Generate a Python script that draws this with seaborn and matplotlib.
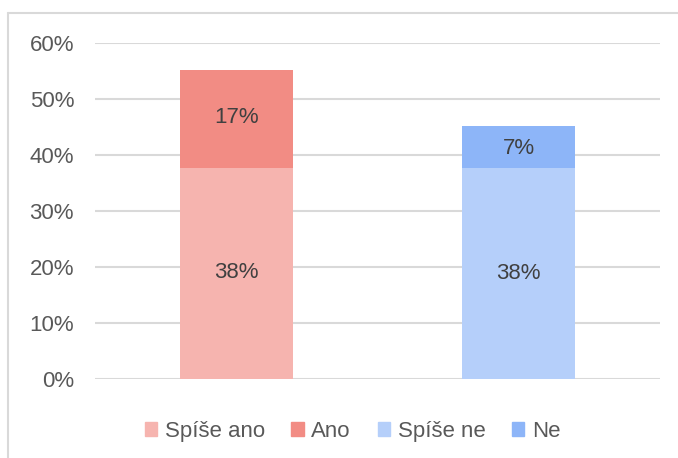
import seaborn as sns
import pandas as pd
import matplotlib.pyplot as plt
from matplotlib.patches import Patch
from matplotlib.lines import Line2D

groups = ['ano', 'ne']
lower_names = ['Spíše ano', 'Spíše ne']
upper_names = ['Ano', 'Ne']
lower_vals = [0.382, 0.377]
upper_vals = [0.170, 0.069]
lower_colors = ['#F6B4AF', '#B5CFFA']
upper_colors = ['#F28C84', '#8DB5F8']

df = pd.DataFrame({'group': groups, 'lower': lower_vals, 'upper': upper_vals})

sns.set_style('white')
plt.rcParams['font.family'] = ['Liberation Sans', 'DejaVu Sans']
txt = '#595959'
fs = 16

fig = plt.figure(figsize=(6.78, 4.58), dpi=100)
ax = fig.add_axes([0.140, 0.1725, 0.833, 0.7335])

sns.barplot(data=df, x='group', y='lower', hue='group', palette=lower_colors,
            width=0.4, saturation=1, legend=False, ax=ax, linewidth=0, zorder=2)
sns.barplot(data=df, x='group', y='upper', hue='group', palette=upper_colors,
            width=0.4, saturation=1, legend=False, ax=ax, linewidth=0, zorder=2,
            bottom=df['lower'].values)

for i, (lo, up) in enumerate(zip(lower_vals, upper_vals)):
    ax.text(i, lo / 2, f'{lo*100:.0f}%', ha='center', va='center', fontsize=fs, color='#404040', zorder=3)
    ax.text(i, lo + up / 2, f'{up*100:.0f}%', ha='center', va='center', fontsize=fs, color='#404040', zorder=3)

ax.set_xlim(-0.5, 1.5)
ax.set_ylim(0, 0.6)
ax.set_yticks([0, 0.1, 0.2, 0.3, 0.4, 0.5, 0.6])
ax.set_yticklabels(['0%', '10%', '20%', '30%', '40%', '50%', '60%'], fontsize=fs, color=txt)
ax.set_xticks([])
ax.set_xlabel('')
ax.set_ylabel('')
ax.tick_params(axis='y', length=0, pad=15)
ax.yaxis.grid(True, color='#D9D9D9', linewidth=1.5, zorder=0)
ax.set_axisbelow(True)
for s in ax.spines.values():
    s.set_visible(False)

handles = [Patch(color=lower_colors[0], label=lower_names[0]),
           Patch(color=upper_colors[0], label=upper_names[0]),
           Patch(color=lower_colors[1], label=lower_names[1]),
           Patch(color=upper_colors[1], label=upper_names[1])]
leg = fig.legend(handles=handles, loc='center', bbox_to_anchor=(0.52, 0.058), ncol=4,
                 frameon=False, fontsize=fs, handlelength=0.55, handleheight=0.55,
                 handletextpad=0.35, columnspacing=1.2)
for t in leg.get_texts():
    t.set_color(txt)

# chart border (left and top edges)
fig.add_artist(Line2D([8 / 678, 8 / 678], [0, 1 - 13 / 458], transform=fig.transFigure, color='#D9D9D9', linewidth=1.5))
fig.add_artist(Line2D([8 / 678, 1], [1 - 13 / 458, 1 - 13 / 458], transform=fig.transFigure, color='#D9D9D9', linewidth=1.5))

fig.savefig('out.png', dpi=100)
